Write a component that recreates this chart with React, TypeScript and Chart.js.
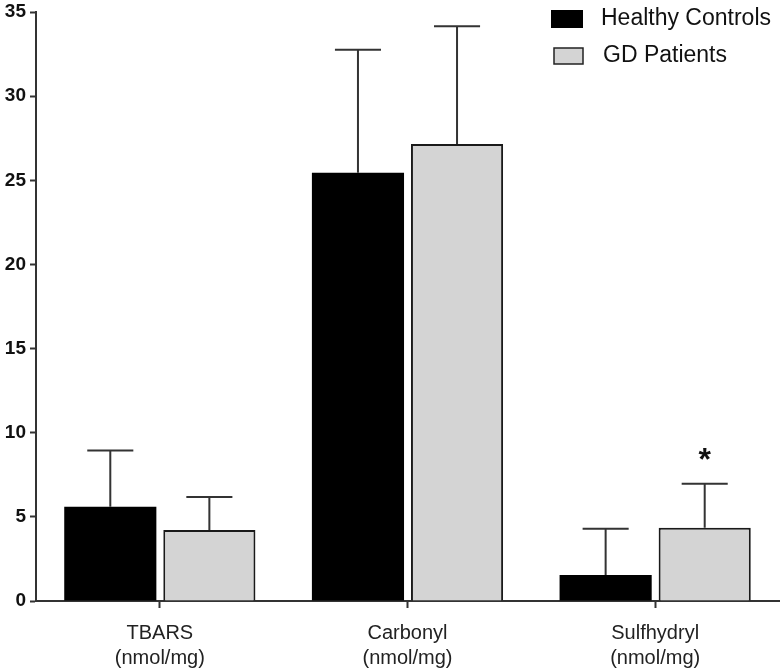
import React, { useEffect, useRef } from "react";
import { Chart, registerables } from "chart.js";

Chart.register(...registerables);

const categories: string[][] = [
  ["TBARS", "(nmol/mg)"],
  ["Carbonyl", "(nmol/mg)"],
  ["Sulfhydryl", "(nmol/mg)"],
];
const seriesNames = ["Healthy Controls", "GD Patients"];
const healthyMeans = [5.6, 25.45, 1.55];
const healthySD = [3.35, 7.3, 2.75];
const gdMeans = [4.22, 27.15, 4.35];
const gdSD = [1.96, 7.0, 2.62];
const significance = ["", "", "*"];
const yTicks = [0, 5, 10, 15, 20, 25, 30, 35];

const FONT = "'Liberation Sans', Arial, sans-serif";

const errorBarPlugin = {
  id: "errorBars",
  afterDatasetsDraw(chart: any) {
    const ctx = chart.ctx;
    const yScale = chart.scales.y;
    const sds = [healthySD, gdSD];
    chart.data.datasets.forEach((ds: any, di: number) => {
      const meta = chart.getDatasetMeta(di);
      meta.data.forEach((bar: any, i: number) => {
        const v = ds.data[i];
        const top = yScale.getPixelForValue(v + sds[di][i]);
        const base = yScale.getPixelForValue(v);
        const half = bar.width / 4;
        ctx.save();
        ctx.strokeStyle = "#333";
        ctx.lineWidth = 2;
        ctx.beginPath();
        ctx.moveTo(bar.x, base);
        ctx.lineTo(bar.x, top);
        ctx.moveTo(bar.x - half, top);
        ctx.lineTo(bar.x + half, top);
        ctx.stroke();
        if (di === 1 && significance[i]) {
          ctx.fillStyle = "#111";
          ctx.font = `bold 32px ${FONT}`;
          ctx.textAlign = "center";
          ctx.textBaseline = "alphabetic";
          ctx.fillText(significance[i], bar.x, top - 14);
        }
        ctx.restore();
      });
    });
  },
};

const legendPlugin = {
  id: "customLegend",
  afterDraw(chart: any) {
    const ctx = chart.ctx;
    const area = chart.chartArea;
    const x0 = area.right - 228;
    const y0 = area.top - 2;
    ctx.save();
    ctx.font = `23px ${FONT}`;
    ctx.textBaseline = "middle";
    chart.data.datasets.forEach((ds: any, i: number) => {
      const y = y0 + i * 37;
      if (i === 1) {
        ctx.fillStyle = ds.backgroundColor;
        ctx.fillRect(x0 + 3, y + 1, 29, 16);
        ctx.strokeStyle = "#222";
        ctx.lineWidth = 1.5;
        ctx.strokeRect(x0 + 3, y + 1, 29, 16);
      } else {
        ctx.fillStyle = ds.backgroundColor;
        ctx.fillRect(x0, y, 32, 18);
      }
      ctx.fillStyle = "#111";
      ctx.fillText(ds.label, x0 + 50 + i * 2, y + 9);
    });
    ctx.restore();
  },
};

export default function App() {
  const ref = useRef<HTMLCanvasElement>(null);
  useEffect(() => {
    document.body.style.margin = "0";
    const chart = new Chart(ref.current!, {
      type: "bar",
      data: {
        labels: categories,
        datasets: [
          {
            label: seriesNames[0],
            data: healthyMeans,
            backgroundColor: "#000000",
            borderColor: "#000000",
            borderWidth: 0,
            categoryPercentage: 0.8,
            barPercentage: 0.93,
          },
          {
            label: seriesNames[1],
            data: gdMeans,
            backgroundColor: "#d4d4d4",
            borderColor: "#1a1a1a",
            borderWidth: 2,
            categoryPercentage: 0.8,
            barPercentage: 0.93,
          },
        ],
      },
      options: {
        animation: false,
        responsive: false,
        layout: { padding: { top: 0, right: 3, left: 0, bottom: 0 } },
        plugins: { legend: { display: false }, tooltip: { enabled: false } },
        scales: {
          x: {
            grid: {
              offset: false,
              drawOnChartArea: false,
              drawTicks: true,
              tickLength: 7,
              tickColor: "#333",
              tickWidth: 2,
            },
            border: { color: "#333", width: 2 },
            ticks: {
              color: "#222",
              font: { family: FONT, size: 20, lineHeight: 1.25 },
              padding: 13,
              maxRotation: 0,
            },
            afterFit(scale: any) {
              scale.height = 68;
            },
          },
          y: {
            min: 0,
            max: 35,
            afterBuildTicks(scale: any) {
              scale.ticks = yTicks.map((v) => ({ value: v }));
            },
            grid: {
              drawOnChartArea: false,
              drawTicks: true,
              tickLength: 6,
              tickColor: "#333",
              tickWidth: 2,
            },
            border: { color: "#333", width: 2 },
            ticks: {
              color: "#111",
              font: { family: FONT, size: 19, weight: "bold" },
              padding: 4,
            },
            afterFit(scale: any) {
              scale.width = 36;
              scale.paddingTop = 12;
            },
          },
        },
      },
      plugins: [errorBarPlugin, legendPlugin],
    });
    return () => chart.destroy();
  }, []);
  return (
    <div style={{ width: 782, height: 669 }}>
      <canvas ref={ref} width={782} height={669} />
    </div>
  );
}
